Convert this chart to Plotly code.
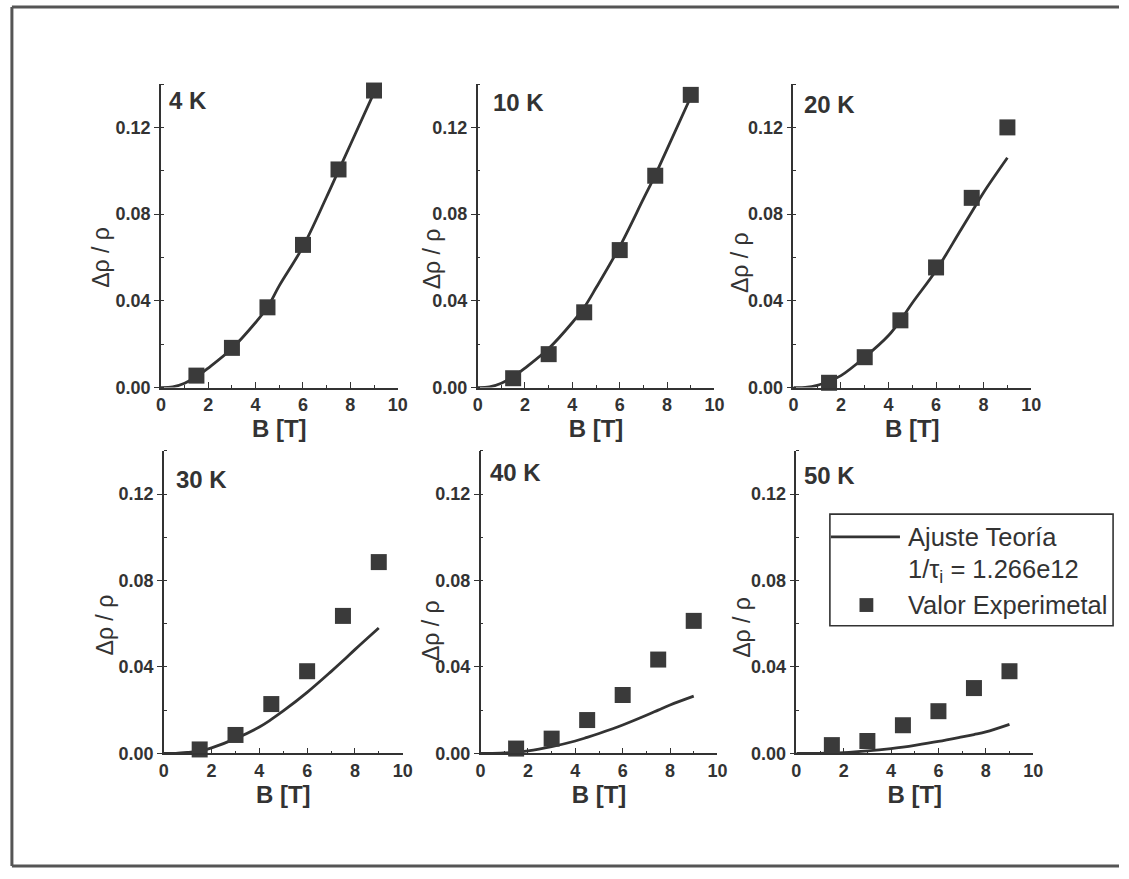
import plotly.graph_objects as go

W, H = 1129, 879

# ---------------- data ----------------
temperatures = ["4 K", "10 K", "20 K", "30 K", "40 K", "50 K"]

B_exp = [1.5, 3.0, 4.5, 6.0, 7.5, 9.0]
exp_4K = [0.0055, 0.0183, 0.0370, 0.0658, 0.1006, 0.1370]
exp_10K = [0.0043, 0.0154, 0.0347, 0.0634, 0.0977, 0.1350]
exp_20K = [0.0022, 0.0140, 0.0310, 0.0554, 0.0875, 0.1200]
exp_30K = [0.0018, 0.0085, 0.0228, 0.0380, 0.0636, 0.0885]
exp_40K = [0.0022, 0.0068, 0.0154, 0.0270, 0.0434, 0.0613]
exp_50K = [0.0038, 0.0057, 0.0130, 0.0195, 0.0302, 0.0380]

B_fit = [0, 0.5, 1, 1.5, 2, 3, 4, 4.5, 5, 6, 7, 7.5, 8, 9]
fit_4K = [0, 0.0003, 0.002, 0.005, 0.009, 0.018, 0.030, 0.037, 0.047, 0.065, 0.088, 0.100, 0.112, 0.136]
fit_10K = [0, 0.0003, 0.002, 0.005, 0.009, 0.018, 0.030, 0.037, 0.046, 0.065, 0.087, 0.098, 0.110, 0.134]
fit_20K = [0, 0.0001, 0.001, 0.003, 0.0055, 0.014, 0.024, 0.031, 0.039, 0.054, 0.072, 0.081, 0.090, 0.106]
fit_30K = [0, 0, 0.0004, 0.001, 0.0025, 0.0068, 0.0122, 0.0157, 0.0196, 0.0282, 0.0378, 0.0428, 0.0480, 0.0580]
fit_40K = [0, 0, 0.0002, 0.0005, 0.0011, 0.0031, 0.0057, 0.0074, 0.0092, 0.0131, 0.0176, 0.0200, 0.0224, 0.0265]
fit_50K = [0, 0, 0, 0.0001, 0.0003, 0.0011, 0.0022, 0.0029, 0.0037, 0.0055, 0.0076, 0.0087, 0.0099, 0.0134]

exp_series = [exp_4K, exp_10K, exp_20K, exp_30K, exp_40K, exp_50K]
fit_series = [fit_4K, fit_10K, fit_20K, fit_30K, fit_40K, fit_50K]

x_ticks = [0, 2, 4, 6, 8, 10]
y_ticks = [0.00, 0.04, 0.08, 0.12]
y_tick_labels = ["0.00", "0.04", "0.08", "0.12"]

x_title = "B [T]"
y_title = "Δρ / ρ"
legend_line_text = "Ajuste Teoría"
legend_param_text = "1/τ<sub>i</sub> = 1.266e12"
legend_marker_text = "Valor Experimetal"

# ---------------- layout helpers ----------------
def px(x):
    return x / W

def py(y):
    return 1 - y / H

# panel pixel boxes (left, right, top, bottom)
panels = [
    (158, 398, 85, 392),
    (479, 719, 85, 392),
    (799, 1040, 85, 392),
    (161, 403, 456, 762),
    (482, 722, 456, 762),
    (802, 1042, 456, 762),
]
# panel label left edge / centre (pixels)
label_pos = [(164, 102), (493, 104), (808, 106), (171, 485), (489, 478), (808, 481)]
# y-title centre (pixels)
ytitle_pos = [(97, 260), (433, 262), (745, 266), (101, 632), (431, 638), (747, 635)]

INK = "#333333"
FONT = "Liberation Sans, Arial, sans-serif"

fig = go.Figure()
layout = dict(
    width=W, height=H,
    margin=dict(l=0, r=0, t=0, b=0),
    paper_bgcolor="white", plot_bgcolor="white",
    showlegend=False,
    font=dict(family=FONT, color=INK),
)
annotations = []
shapes = []

for i, (name, ye, yf) in enumerate(zip(temperatures, exp_series, fit_series)):
    l, r, t, b = panels[i]
    xa = "x" if i == 0 else f"x{i+1}"
    ya = "y" if i == 0 else f"y{i+1}"
    fig.add_trace(go.Scatter(
        x=B_fit, y=yf, mode="lines", xaxis=xa, yaxis=ya,
        line=dict(color=INK, width=2.8, shape="spline", smoothing=1.0),
        name=legend_line_text, hoverinfo="skip",
    ))
    fig.add_trace(go.Scatter(
        x=B_exp, y=ye, mode="markers", xaxis=xa, yaxis=ya,
        marker=dict(symbol="square", size=16, color="#3a3a3a",
                    line=dict(width=0)),
        name=legend_marker_text, cliponaxis=False,
    ))
    xkey = "xaxis" if i == 0 else f"xaxis{i+1}"
    ykey = "yaxis" if i == 0 else f"yaxis{i+1}"
    layout[xkey] = dict(
        domain=[px(l), px(r)], anchor=ya, range=[0, 10],
        tickvals=x_ticks, ticks="inside", ticklen=6, tickwidth=1.3,
        tickcolor=INK, showline=True, linecolor=INK, linewidth=1.6,
        showgrid=False, zeroline=False,
        tickfont=dict(family=FONT, size=18, color=INK, weight="bold"),
        minor=dict(dtick=1, tick0=0, ticks="inside", ticklen=3, tickcolor=INK),
        title=dict(text=f"<b>{x_title}</b>", font=dict(family=FONT, size=24, color=INK),
                   standoff=0),
    )
    layout[ykey] = dict(
        domain=[py(b), py(t)], anchor=xa, range=[0, 0.14],
        tickvals=y_ticks, ticktext=y_tick_labels,
        ticks="outside", ticklen=5, tickwidth=1.3, tickcolor=INK,
        showline=True, linecolor=INK, linewidth=1.6,
        showgrid=False, zeroline=False,
        tickfont=dict(family=FONT, size=18, color=INK, weight="bold"),
        minor=dict(dtick=0.02, tick0=0, ticks="inside", ticklen=3, tickcolor=INK),
    )
    lx, ly = label_pos[i]
    annotations.append(dict(
        text=f"<b>{name}</b>", x=px(lx), y=py(ly),
        xref="paper", yref="paper",
        xanchor="left", yanchor="middle", showarrow=False,
        font=dict(family=FONT, size=24, color=INK),
    ))
    tx, ty = ytitle_pos[i]
    annotations.append(dict(
        text=y_title, x=px(tx), y=py(ty), xref="paper", yref="paper",
        xanchor="center", yanchor="middle", textangle=-90, showarrow=False,
        font=dict(family=FONT, size=23, color=INK),
    ))

# ---------------- legend (drawn in the 50 K panel) ----------------
shapes.append(dict(type="rect", xref="paper", yref="paper",
                   x0=px(836), x1=px(1123), y0=py(633), y1=py(520),
                   line=dict(color=INK, width=1.6), fillcolor="white", layer="above"))
shapes.append(dict(type="line", xref="paper", yref="paper",
                   x0=px(837), x1=px(907), y0=py(543), y1=py(543),
                   line=dict(color=INK, width=2.8), layer="above"))
shapes.append(dict(type="rect", xref="paper", yref="paper",
                   x0=px(866), x1=px(880), y0=py(619), y1=py(605),
                   line=dict(width=0), fillcolor="#3a3a3a", layer="above"))
for txt, yy in [(legend_line_text, 543), (legend_param_text, 578), (legend_marker_text, 612)]:
    annotations.append(dict(text=txt, x=px(913), y=py(yy), xref="paper", yref="paper",
                            xanchor="left", yanchor="middle", showarrow=False,
                            font=dict(family=FONT, size=25.5, color=INK)))

# ---------------- scanned page border ----------------
for (x0, y0, x1, y1) in [(7, 7, 1129, 7), (7, 7, 7, 876), (7, 876, 1129, 876)]:
    shapes.append(dict(type="line", xref="paper", yref="paper",
                       x0=px(x0), y0=py(y0), x1=px(x1), y1=py(y1),
                       line=dict(color="#555555", width=3)))

layout["annotations"] = annotations
layout["shapes"] = shapes
fig.update_layout(**layout)

fig.write_html("out.html")
